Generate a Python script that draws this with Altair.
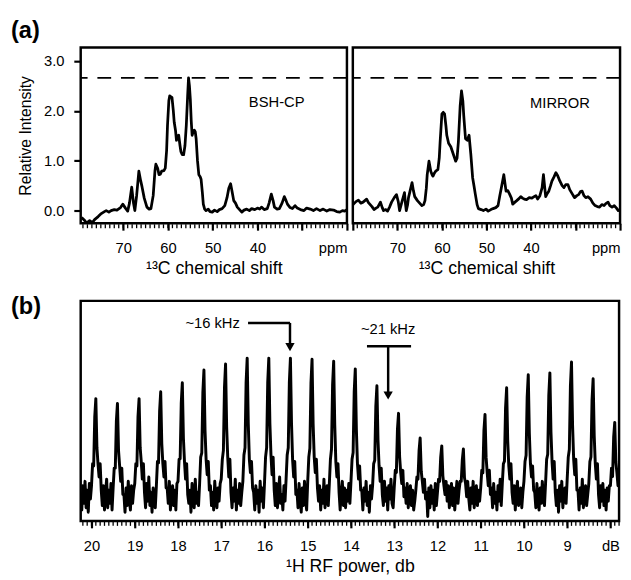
import altair as alt
import pandas as pd

FONT = "Liberation Sans"

# ---------------- (a) 13C spectra ----------------
bsh_ppm = [79.3, 78.6, 78.2, 77.5, 76.9, 76.4, 75.6, 74.9, 74.2, 73.8, 73.2, 72.7, 72.0, 71.4, 70.6,
           70.1, 69.5, 69.0, 68.6, 68.1, 67.7, 67.4, 67.0, 66.5, 66.1, 65.8, 65.3, 64.7, 64.2, 63.8,
           63.3, 62.9, 62.7, 62.3, 62.0, 61.7, 61.4, 60.9, 60.6, 60.3, 60.1, 59.8, 59.6, 59.3, 59.1,
           58.8, 58.6, 58.3, 58.1, 57.8, 57.6, 57.3, 57.1, 56.8, 56.5, 56.2, 55.9, 55.6, 55.4, 55.2,
           55.0, 54.8, 54.6, 54.3, 54.1, 53.9, 53.7, 53.4, 53.1, 52.8, 52.6, 52.3, 52.1, 51.8, 51.5,
           51.0, 50.6, 50.1, 49.6, 49.0, 48.5, 47.9, 47.3, 46.8, 46.4, 46.0, 45.7, 45.3, 44.9, 44.5,
           44.0, 43.5, 43.0, 42.4, 41.8, 41.3, 40.6, 40.0, 39.5, 39.1, 38.5, 37.8, 37.4, 36.9, 36.5,
           36.2, 35.6, 35.1, 34.5, 34.0, 33.6, 33.3, 32.7, 32.2, 31.6, 31.1, 30.4, 29.6, 29.0, 28.2,
           27.5, 26.8, 26.0, 25.3, 24.5, 23.8, 23.0, 22.3, 21.6, 21.0, 20.5, 20.0]
bsh_int = [-0.14, -0.20, -0.25, -0.20, -0.24, -0.18, -0.12, -0.06, -0.02, 0.00, -0.03, 0.00, 0.02, 0.01, 0.06,
           0.13, 0.05, -0.01, 0.15, 0.47, 0.15, 0.00, 0.30, 0.79, 0.60, 0.48, 0.25, 0.07, 0.03, 0.04,
           0.30, 0.80, 0.93, 0.85, 0.72, 0.73, 0.79, 0.80, 0.85, 1.20, 1.71, 2.20, 2.30, 2.28, 2.27,
           2.00, 1.77, 1.60, 1.41, 1.50, 1.51, 1.30, 1.18, 1.12, 1.12, 1.30, 1.71, 2.30, 2.66, 2.50,
           2.23, 1.80, 1.51, 1.60, 1.61, 1.58, 1.44, 1.00, 0.72, 0.68, 0.63, 0.35, 0.13, 0.03, 0.00,
           0.03, -0.02, -0.03, 0.01, -0.02, 0.02, 0.04, 0.10, 0.26, 0.45, 0.54, 0.40, 0.20, 0.15, 0.07,
           0.02, -0.03, 0.01, 0.03, 0.00, 0.04, 0.02, 0.05, 0.03, 0.07, 0.02, 0.04, 0.15, 0.33, 0.20,
           0.07, 0.03, 0.04, 0.15, 0.28, 0.20, 0.13, 0.06, 0.04, 0.10, 0.05, 0.02, 0.00, 0.05, 0.03,
           0.00, 0.04, 0.00, 0.03, -0.01, 0.02, 0.01, -0.02, -0.03, 0.00, -0.01, 0.02]

mirror_ppm = [80.0, 79.85, 79.3, 78.75, 78.2, 77.7, 77.3, 76.9, 76.5, 76.2, 75.7, 75.25, 74.8, 74.4, 73.8,
              73.4, 73.1, 72.6, 72.2, 71.7, 71.3, 70.7, 70.2, 69.8, 69.5, 69.2, 68.9, 68.4, 68.2, 68.0,
              67.7, 67.5, 67.0, 66.7, 66.4, 66.1, 65.5, 65.0, 64.5, 64.1, 63.8, 63.5, 63.3, 62.9, 62.5,
              62.2, 62.0, 61.7, 61.4, 60.9, 60.6, 60.4, 60.0, 59.7, 59.4, 59.1, 58.9, 58.5, 58.0, 57.4,
              56.9, 56.6, 56.3, 55.9, 55.6, 55.3, 55.1, 54.7, 54.3, 53.9, 53.5, 53.1, 52.8, 52.5, 52.1,
              51.8, 51.2, 50.7, 50.1, 49.6, 49.0, 48.5, 47.9, 47.4, 47.0, 46.65, 46.1, 45.6, 45.2, 44.8,
              44.4, 44.1, 43.6, 43.2, 42.7, 42.3, 41.9, 41.5, 41.0, 40.4, 39.8, 39.3, 38.9, 38.5, 38.0,
              37.5, 37.2, 36.9, 36.7, 36.3, 36.0, 35.6, 35.3, 34.8, 34.4, 34.0, 33.5, 33.0, 32.6, 32.2,
              31.7, 31.3, 30.9, 30.5, 30.2, 29.7, 29.3, 28.9, 28.5, 28.1, 27.7, 27.2, 26.6, 26.1, 25.6,
              25.1, 24.6, 24.1, 23.6, 23.2, 22.7, 22.3, 21.8, 21.3, 20.8, 20.4, 20.0]
mirror_int = [0.12, 0.13, 0.18, 0.21, 0.15, 0.17, 0.20, 0.23, 0.16, 0.13, 0.08, 0.02, 0.05, 0.07, 0.17,
              0.06, 0.00, 0.02, -0.01, 0.08, 0.17, 0.26, 0.32, 0.18, 0.00, 0.10, 0.20, 0.36, 0.15, 0.00,
              0.12, 0.26, 0.45, 0.56, 0.40, 0.28, 0.20, 0.15, 0.10, 0.12, 0.20, 0.45, 0.72, 0.99, 0.79,
              0.72, 0.69, 0.75, 0.79, 0.82, 1.05, 1.38, 1.94, 1.97, 1.94, 1.70, 1.51, 1.35, 1.28, 1.12,
              0.99, 1.05, 1.38, 2.10, 2.40, 2.20, 1.91, 1.44, 1.41, 1.51, 1.12, 0.66, 0.50, 0.33, 0.12,
              0.04, 0.02, 0.00, 0.03, -0.01, 0.02, 0.04, 0.06, 0.10, 0.30, 0.46, 0.72, 0.39, 0.40, 0.33,
              0.25, 0.13, 0.17, 0.20, 0.24, 0.28, 0.25, 0.23, 0.22, 0.26, 0.25, 0.28, 0.30, 0.23, 0.30,
              0.46, 0.72, 0.45, 0.28, 0.35, 0.39, 0.50, 0.59, 0.68, 0.76, 0.70, 0.59, 0.50, 0.46, 0.52,
              0.52, 0.42, 0.36, 0.30, 0.26, 0.30, 0.32, 0.38, 0.39, 0.30, 0.26, 0.28, 0.23, 0.15, 0.10,
              0.08, 0.07, 0.12, 0.10, 0.14, 0.17, 0.10, 0.07, 0.10, 0.05, 0.00, 0.02]

max_level = [2.66]
a_ticks_left = [70, 60, 50, 40, 30, 20]
a_ticks_right = [80, 70, 60, 50, 40, 30, 20]
a_minor_left = list(range(21, 80))
a_minor_right = list(range(21, 80))
a_y_ticks = [0, 1, 2, 3]
a_names = ["BSH-CP", "MIRROR"]
a_name_ppm = [35.7, 33.5]
a_name_int = [2.17, 2.15]

# ---------------- (b) 1H RF power sweep ----------------
# one row per peak (20 samples, 0.025 dB apart); peak tops
rf_int = [
    1.2, 0.5, 1.6, 0.8, 1.8, 0.6, 1.4, 0.4, 1.7, 1.0,
    1.6, 2.6, 2.5, 4.73, 5.56, 3.34, 2.6, 2.0, 2.6, 1.4, 0.7, 1.6, 0.5, 1.3, 1.9, 0.6, 1.4, 0.8, 1.7, 0.5,
    1.5, 2.4, 2.4, 4.54, 5.34, 3.2, 2.5, 1.8, 2.4, 1.2, 1.2, 0.4, 1.5, 0.7, 1.8, 0.9, 0.5, 1.6, 0.8, 1.4,
    1.7, 2.6, 2.5, 4.73, 5.56, 3.34, 2.7, 1.9, 2.6, 1.3, 0.6, 1.7, 0.9, 2.0, 0.7, 1.3, 0.4, 1.5, 1.0, 0.6,
    1.6, 2.7, 2.64, 4.99, 5.87, 3.52, 2.6, 2.0, 2.7, 1.5, 1.5, 0.8, 1.8, 0.5, 1.2, 1.6, 0.7, 1.4, 0.5, 1.7,
    1.8, 2.8, 2.83, 5.34, 6.28, 3.77, 2.7, 1.9, 2.6, 1.2, 0.8, 1.4, 0.4, 1.7, 0.9, 0.6, 1.9, 0.8, 1.3, 0.7,
    1.7, 2.9, 3.09, 5.83, 6.86, 4.12, 2.8, 2.1, 2.7, 1.4, 1.6, 0.7, 1.3, 0.5, 1.8, 1.0, 0.6, 1.5, 0.9, 1.7,
    1.9, 2.8, 3.21, 6.06, 7.13, 4.28, 2.9, 2.0, 2.8, 1.3, 0.6, 1.5, 0.9, 1.9, 0.5, 1.4, 0.8, 1.7, 0.7, 1.3,
    1.8, 3.0, 3.33, 6.29, 7.40, 4.44, 2.8, 2.2, 2.7, 1.5, 1.3, 0.5, 1.6, 0.8, 1.4, 0.4, 1.8, 0.9, 1.5, 0.6,
    1.7, 2.9, 3.33, 6.29, 7.40, 4.44, 3.0, 2.1, 2.9, 1.4, 0.7, 1.7, 0.6, 1.3, 2.0, 0.8, 1.2, 0.5, 1.6, 0.9,
    1.9, 3.0, 3.33, 6.29, 7.40, 4.44, 2.8, 2.0, 2.7, 1.2, 1.4, 0.6, 1.7, 0.9, 0.4, 1.5, 0.7, 1.8, 1.0, 0.5,
    1.8, 2.9, 3.31, 6.25, 7.35, 4.41, 2.9, 2.2, 2.8, 1.5, 0.9, 1.6, 0.5, 1.4, 0.8, 1.9, 0.6, 1.3, 1.6, 0.7,
    1.7, 2.8, 3.27, 6.17, 7.26, 4.36, 2.7, 2.0, 2.6, 1.3, 0.5, 1.3, 1.8, 0.7, 1.5, 0.6, 1.4, 0.9, 1.7, 0.8,
    1.8, 2.8, 3.11, 5.87, 6.91, 4.15, 2.6, 1.9, 2.5, 1.4, 1.4, 0.5, 1.5, 0.9, 1.8, 0.7, 1.3, 0.4, 1.6, 1.0,
    1.6, 2.6, 2.76, 5.22, 6.14, 3.68, 2.5, 1.8, 2.4, 1.2, 0.7, 1.8, 0.9, 1.5, 0.5, 1.6, 1.0, 1.9, 0.8, 0.6,
    1.5, 2.3, 2.2, 4.16, 4.89, 2.93, 2.2, 1.7, 2.3, 1.1, 1.5, 0.8, 1.7, 0.6, 1.3, 1.6, 0.7, 1.4, 0.5, 0.9,
    1.4, 2.0, 1.9, 3.2, 3.77, 2.26, 1.8, 1.3, 1.9, 1.0, 1.3, 0.2, 1.5, 0.6, 1.6, 0.8, 1.4, 0.5, 1.7, 0.7,
    1.3, 1.9, 1.8, 2.9, 3.41, 2.05, 1.6, 1.2, 1.8, 0.9, 1.6, 0.6, 1.3, 1.7, 0.7, 1.5, 0.5, 1.2, 1.8, 0.8,
    1.4, 1.8, 1.8, 2.78, 3.27, 1.96, 1.7, 1.1, 1.8, 1.0, 0.5, 1.5, 0.8, 1.8, 0.6, 1.3, 1.6, 0.7, 1.4, 0.9,
    1.5, 2.3, 2.18, 4.11, 4.84, 2.9, 2.2, 1.6, 2.3, 1.2, 1.5, 0.6, 1.7, 0.8, 1.3, 0.5, 1.6, 0.9, 1.9, 0.7,
    1.7, 2.6, 2.72, 5.14, 6.05, 3.63, 2.5, 1.9, 2.6, 1.3, 0.8, 1.6, 0.5, 1.4, 1.8, 0.7, 1.2, 1.5, 0.6, 1.3,
    1.8, 2.7, 2.99, 5.64, 6.64, 3.98, 2.6, 2.0, 2.5, 1.4, 1.3, 0.6, 1.7, 0.9, 0.5, 1.5, 0.8, 1.8, 1.0, 0.7,
    1.7, 2.8, 3.03, 5.72, 6.73, 4.04, 2.7, 1.9, 2.7, 1.3, 0.7, 1.4, 0.4, 1.6, 0.9, 1.8, 0.6, 1.3, 1.5, 0.8,
    1.9, 2.9, 3.25, 6.14, 7.22, 4.33, 2.8, 2.1, 2.8, 1.4, 1.4, 0.5, 1.5, 0.8, 1.9, 0.6, 1.3, 1.6, 0.7, 1.2,
    1.7, 2.7, 2.91, 5.49, 6.46, 3.88, 2.6, 1.9, 2.6, 1.2, 0.6, 1.6, 0.9, 1.7, 0.7, 1.4, 0.5, 1.5, 0.9, 1.6,
    1.6, 2.4, 2.02, 3.81, 4.48, 2.69, 2.2, 1.6, 2.3, 1.2,
]
# sampling positions of the sweep trace (dB): one sample every 0.025 dB from 20.25
rf_db = [round(20.25 - 0.025 * i, 3) for i in range(len(rf_int))]

b_ticks = list(range(8, 21))
b_minor = [round(7.8 + 0.1 * i, 1) for i in range(125)]
arrow_text = ["~16 kHz", "~21 kHz"]
arrow_text_db = [17.20, 13.14]
arrow_text_int = [8.97, 8.74]
bar_db_from = [16.38, 13.63]
bar_db_to = [15.41, 12.61]
bar_int = [9.0, 7.94]
stem_db = [15.41, 13.14]
stem_top = [9.0, 7.94]
stem_bottom = [7.95, 5.75]
head_int = [7.90, 5.70]

A_Y = alt.Scale(domain=[-0.254, 3.27], nice=False, zero=False)
A_H = 179
B_H = 224


def minor_ticks(values, field, scale, height):
    return alt.Chart(pd.DataFrame({field: values})).mark_tick(
        color="black", thickness=1.3, size=4, opacity=1).encode(
        x=alt.X(f"{field}:Q", scale=scale), y=alt.value(height + 3))


def a_panel(ppm, inten, x_hi, ticks, minor, name_idx, show_y, width):
    df = pd.DataFrame({"ppm": ppm, "val": inten})
    xs = alt.Scale(domain=[20, x_hi], reverse=True, nice=False, zero=False)
    blank = "datum.value == 20 ? 'ppm' : (datum.value == 30 || datum.value == 80) ? '' : datum.label"
    xaxis = alt.Axis(values=ticks, labelExpr=blank, labelFlush=True, title="¹³C chemical shift")
    if show_y:
        yenc = alt.Y("val:Q", scale=A_Y, axis=alt.Axis(values=a_y_ticks, format=".1f",
                                                        title="Relative Intensity", titleFontSize=16))
    else:
        yenc = alt.Y("val:Q", scale=A_Y, axis=None)
    line = alt.Chart(df).mark_line(color="black", strokeWidth=2.8, clip=True,
                                   strokeJoin="round").encode(
        x=alt.X("ppm:Q", scale=xs, axis=xaxis), y=yenc)
    dash = alt.Chart(pd.DataFrame({"lvl": max_level})).mark_rule(
        color="black", strokeWidth=2, strokeDash=[14, 10]).encode(y=alt.Y("lvl:Q", scale=A_Y))
    name = alt.Chart(pd.DataFrame({"t": [a_names[name_idx]], "x": [a_name_ppm[name_idx]],
                                   "y": [a_name_int[name_idx]]})).mark_text(
        fontSize=15, color="black").encode(x=alt.X("x:Q", scale=xs), y=alt.Y("y:Q", scale=A_Y), text="t:N")
    return alt.layer(line, dash, name, minor_ticks(minor, "m", xs, A_H)).properties(
        width=width, height=A_H)


a_left = a_panel(bsh_ppm, bsh_int, 79.5, a_ticks_left, a_minor_left, 0, True, 271).properties(
    title=alt.TitleParams("(a)", anchor="start", frame="group", dx=-71, offset=5))
a_right = a_panel(mirror_ppm, mirror_int, 80, a_ticks_right, a_minor_right, 1, False, 272)
top = alt.hconcat(a_left, a_right, spacing=0)

# ---- (b)
B_X = alt.Scale(domain=[7.8, 20.25], reverse=True, nice=False, zero=False)
B_Y = alt.Scale(domain=[0, 10], nice=False, zero=False)
bdf = pd.DataFrame({"db": rf_db, "val": rf_int})
b_line = alt.Chart(bdf).mark_line(color="black", strokeWidth=3.0, clip=True, strokeJoin="round").encode(
    x=alt.X("db:Q", scale=B_X, axis=alt.Axis(values=b_ticks, labelExpr="datum.value == 8 ? 'dB' : datum.label",
                                             title="¹H RF power, db")),
    y=alt.Y("val:Q", scale=B_Y, axis=None))
ann = pd.DataFrame({"t": arrow_text, "x": arrow_text_db, "y": arrow_text_int,
                    "b1": bar_db_from, "b2": bar_db_to, "by": bar_int,
                    "sx": stem_db, "s1": stem_top, "s2": stem_bottom, "hy": head_int})
b_text = alt.Chart(ann).mark_text(fontSize=15, color="black").encode(
    x=alt.X("x:Q", scale=B_X), y=alt.Y("y:Q", scale=B_Y), text="t:N")
b_bar = alt.Chart(ann).mark_rule(color="black", strokeWidth=2.5).encode(
    x=alt.X("b1:Q", scale=B_X), x2="b2:Q", y=alt.Y("by:Q", scale=B_Y))
b_stem = alt.Chart(ann).mark_rule(color="black", strokeWidth=2.5).encode(
    x=alt.X("sx:Q", scale=B_X), y=alt.Y("s1:Q", scale=B_Y), y2="s2:Q")
b_head = alt.Chart(ann).mark_point(shape="triangle-down", filled=True, size=90, color="black",
                                   opacity=1).encode(
    x=alt.X("sx:Q", scale=B_X), y=alt.Y("hy:Q", scale=B_Y))
b_panel = alt.layer(b_line, b_text, b_bar, b_stem, b_head, minor_ticks(b_minor, "m", B_X, B_H)).properties(
    width=548, height=B_H,
    title=alt.TitleParams("(b)", anchor="start", frame="group", dx=-71, offset=-18))

chart = alt.vconcat(top, b_panel, spacing=14).properties(
    padding={"left": 1, "top": 4, "right": 0, "bottom": 0}
).configure(font=FONT).configure_view(
    stroke="black", strokeWidth=2.5
).configure_axis(
    labelFontSize=15, titleFontSize=18, titleFontWeight="normal", labelColor="black",
    titleColor="black", tickColor="black", tickWidth=2.2, tickSize=7, domain=False, grid=False,
    labelPadding=11, titlePadding=4, labelFont=FONT, titleFont=FONT
).configure_axisY(labelPadding=10, titlePadding=10).configure_title(
    fontSize=24, fontWeight="bold", color="black", font=FONT)

chart.save("out.html", embed_options={"renderer": "svg", "actions": False})
